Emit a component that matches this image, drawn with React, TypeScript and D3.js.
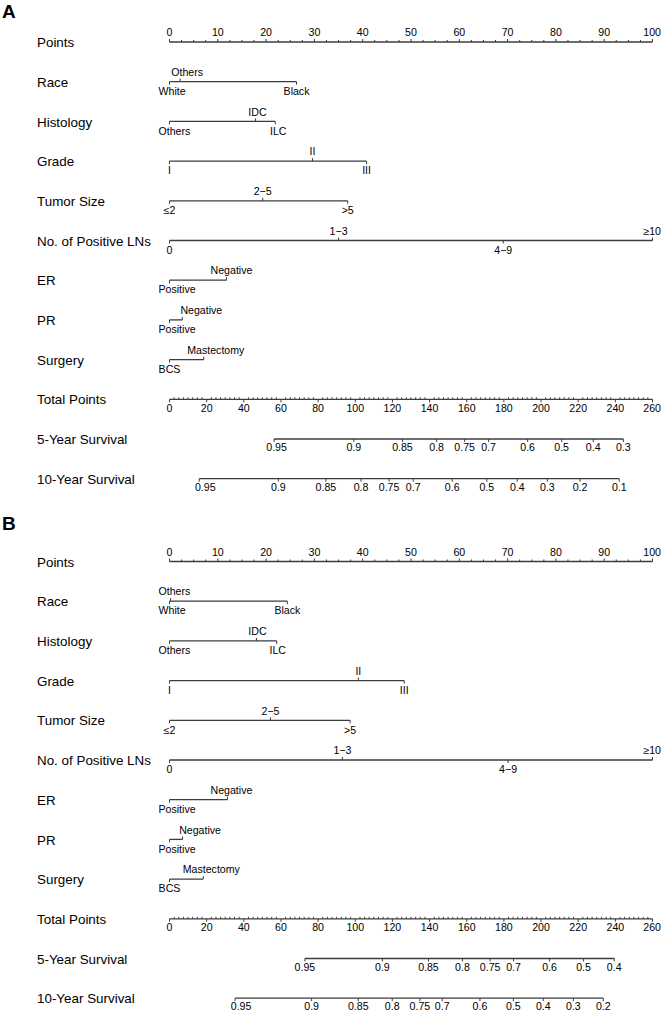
import React, { useEffect, useRef } from "react";
import * as d3 from "d3";

const rowLabels = [
  "Points",
  "Race",
  "Histology",
  "Grade",
  "Tumor Size",
  "No. of Positive LNs",
  "ER",
  "PR",
  "Surgery",
  "Total Points",
  "5-Year Survival",
  "10-Year Survival",
];

// factor levels (labels alternate below / above the line)
const raceLevels = ["White", "Others", "Black"];
const histologyLevels = ["Others", "IDC", "ILC"];
const gradeLevels = ["I", "II", "III"];
const tumorSizeLevels = ["≤2", "2−5", ">5"];
const lnLevels = ["0", "1−3", "4−9", "≥10"];
const erLevels = ["Positive", "Negative"];
const prLevels = ["Positive", "Negative"];
const surgeryLevels = ["BCS", "Mastectomy"];

// points per level, nomogram A
const racePtsA = [0, 2.2, 26.3];
const histologyPtsA = [0, 17.8, 21.9];
const gradePtsA = [0, 29.6, 40.8];
const tumorSizePtsA = [0, 19.3, 36.9];
const lnPtsA = [0, 35.0, 69.1, 100];
const erPtsA = [0, 11.8];
const prPtsA = [0, 2.65];
const surgeryPtsA = [0, 7.1];

// points per level, nomogram B
const racePtsB = [0, 0.2, 24.4];
const histologyPtsB = [0, 18.0, 22.2];
const gradePtsB = [0, 39.1, 48.6];
const tumorSizePtsB = [0, 20.9, 37.4];
const lnPtsB = [0, 35.8, 70.1, 100];
const erPtsB = [0, 12.0];
const prPtsB = [0, 2.7];
const surgeryPtsB = [0, 7.0];

// survival probabilities and the total points where they sit
const surv5LabelsA = [0.95, 0.9, 0.85, 0.8, 0.75, 0.7, 0.6, 0.5, 0.4, 0.3];
const surv5TotalA = [56.3, 99.2, 125.4, 143.8, 158.9, 171.8, 192.8, 211.1, 228.1, 244.3];
const surv10LabelsA = [0.95, 0.9, 0.85, 0.8, 0.75, 0.7, 0.6, 0.5, 0.4, 0.3, 0.2, 0.1];
const surv10TotalA = [16.0, 58.6, 84.2, 103.1, 118.2, 131.2, 152.2, 170.8, 187.2, 203.4, 221.0, 242.1];

const surv5LabelsB = [0.95, 0.9, 0.85, 0.8, 0.75, 0.7, 0.6, 0.5, 0.4];
const surv5TotalB = [72.9, 114.6, 139.4, 157.7, 172.6, 185.2, 204.6, 222.9, 239.4];
const surv10LabelsB = [0.95, 0.9, 0.85, 0.8, 0.75, 0.7, 0.6, 0.5, 0.4, 0.3, 0.2];
const surv10TotalB = [35.3, 76.5, 101.6, 119.9, 134.8, 146.8, 167.1, 185.1, 201.2, 217.4, 233.5];

const pointsTicks = d3.range(0, 101, 10);
const totalTicks = d3.range(0, 261, 20);

// small label shifts where the original pushed crowded labels apart
const nudgeA: Record<string, number> = {
  "Race:Others": 7,
  "Histology:IDC": 2,
  "Histology:ILC": 3,
  "ER:Negative": 5,
  "PR:Negative": 19,
  "Surgery:Mastectomy": 12,
  "5-Year Survival:0.95": 2.5,
  "10-Year Survival:0.95": 6,
};
const nudgeB: Record<string, number> = {
  "Histology:IDC": 1,
  "Histology:ILC": 1,
  "ER:Negative": 4,
  "PR:Negative": 17.5,
  "Surgery:Mastectomy": 8,
  "10-Year Survival:0.95": 6,
};

const FONT = "'Liberation Sans', Arial, Helvetica, sans-serif";
const LINE = "#3c3c3c";
const ROW_STEP = 39.7;
const TICK_FONT = 10.6;

const App = () => {
  const ref = useRef<SVGSVGElement>(null);

  useEffect(() => {
    const svg = d3.select(ref.current);
    svg.selectAll("*").remove();

    const pointsX = d3.scaleLinear().domain([0, 100]).range([169.5, 652.5]);
    const totalX = d3.scaleLinear().domain([0, 260]).range([169.5, 652.5]);

    const label = (g: any, text: string, x: number, y: number, key: string, nudge: Record<string, number>) => {
      const t = g
        .append("text")
        .attr("x", x)
        .attr("y", y)
        .attr("dy", "0.35em")
        .attr("text-anchor", "middle")
        .attr("font-size", TICK_FONT)
        .text(text);
      const w = t.node().getComputedTextLength();
      let cx = x + (nudge[key] || 0);
      cx = Math.max(cx, 158.5 + w / 2);
      cx = Math.min(cx, 661 - w / 2);
      t.attr("x", cx);
    };

    const hline = (g: any, x1: number, x2: number, y: number) =>
      g.append("line").attr("x1", x1).attr("x2", x2).attr("y1", y).attr("y2", y)
        .attr("stroke", LINE).attr("stroke-width", 1.3);

    const tick = (g: any, x: number, y: number, len: number) =>
      g.append("line").attr("x1", x).attr("x2", x).attr("y1", y).attr("y2", y + len)
        .attr("stroke", LINE).attr("stroke-width", 1);

    const drawPanel = (top: number, letter: string, letterY: number, spec: any, nudge: Record<string, number>) => {
      const g = svg.append("g").attr("font-family", FONT).attr("fill", "#000");
      const rowY = (i: number) => top + i * ROW_STEP;

      g.append("text").attr("x", 2).attr("y", letterY).attr("font-size", 19)
        .attr("font-weight", "bold").text(letter);

      rowLabels.forEach((name, i) => {
        g.append("text").attr("x", 37).attr("y", rowY(i) + 0.5).attr("dy", "0.35em")
          .attr("font-size", 13.4).text(name);
      });

      // Points axis
      const y0 = rowY(0);
      hline(g, pointsX(0), pointsX(100), y0);
      d3.range(0, 100.01, 2.5).forEach((v) => tick(g, pointsX(v), y0, v % 10 === 0 ? -3 : -2));
      pointsTicks.forEach((v) => label(g, String(v), pointsX(v), y0 - 9.5, "Points:" + v, nudge));

      // factor rows
      spec.factors.forEach(([levels, pts]: [string[], number[]], r: number) => {
        const y = rowY(r + 1);
        const name = rowLabels[r + 1];
        hline(g, pointsX(d3.min(pts) as number), pointsX(d3.max(pts) as number), y);
        levels.forEach((lab, i) => {
          const above = i % 2 === 1;
          const x = pointsX(pts[i]);
          tick(g, x, y, above ? -3 : 3);
          label(g, lab, x, y + (above ? -9.5 : 9.5), name + ":" + lab, nudge);
        });
      });

      // Total Points axis
      const yt = rowY(9);
      hline(g, totalX(0), totalX(260), yt);
      d3.range(0, 260.01, 2.5).forEach((v) => {
        if (v % 20 === 0) tick(g, totalX(v), yt, 3);
        else tick(g, totalX(v), yt, -2);
      });
      totalTicks.forEach((v) => label(g, String(v), totalX(v), yt + 8.5, "Total:" + v, nudge));

      // survival rows
      [
        [spec.s5Labels, spec.s5Total, 10],
        [spec.s10Labels, spec.s10Total, 11],
      ].forEach(([labs, tot, r]: any) => {
        const y = rowY(r);
        const name = rowLabels[r];
        hline(g, totalX(d3.min(tot) as number), totalX(d3.max(tot) as number), y);
        labs.forEach((p: number, i: number) => {
          const x = totalX(tot[i]);
          tick(g, x, y, 3);
          label(g, String(p), x, y + 8.5, name + ":" + p, nudge);
        });
      });
    };

    drawPanel(42, "A", 18, {
      factors: [
        [raceLevels, racePtsA],
        [histologyLevels, histologyPtsA],
        [gradeLevels, gradePtsA],
        [tumorSizeLevels, tumorSizePtsA],
        [lnLevels, lnPtsA],
        [erLevels, erPtsA],
        [prLevels, prPtsA],
        [surgeryLevels, surgeryPtsA],
      ],
      s5Labels: surv5LabelsA,
      s5Total: surv5TotalA,
      s10Labels: surv10LabelsA,
      s10Total: surv10TotalA,
    }, nudgeA);

    drawPanel(561.5, "B", 530, {
      factors: [
        [raceLevels, racePtsB],
        [histologyLevels, histologyPtsB],
        [gradeLevels, gradePtsB],
        [tumorSizeLevels, tumorSizePtsB],
        [lnLevels, lnPtsB],
        [erLevels, erPtsB],
        [prLevels, prPtsB],
        [surgeryLevels, surgeryPtsB],
      ],
      s5Labels: surv5LabelsB,
      s5Total: surv5TotalB,
      s10Labels: surv10LabelsB,
      s10Total: surv10TotalB,
    }, nudgeB);
  }, []);

  return (
    <svg
      ref={ref}
      width={663}
      height={1012}
      style={{ position: "absolute", left: 0, top: 0, background: "#fff" }}
    />
  );
};

export default App;
